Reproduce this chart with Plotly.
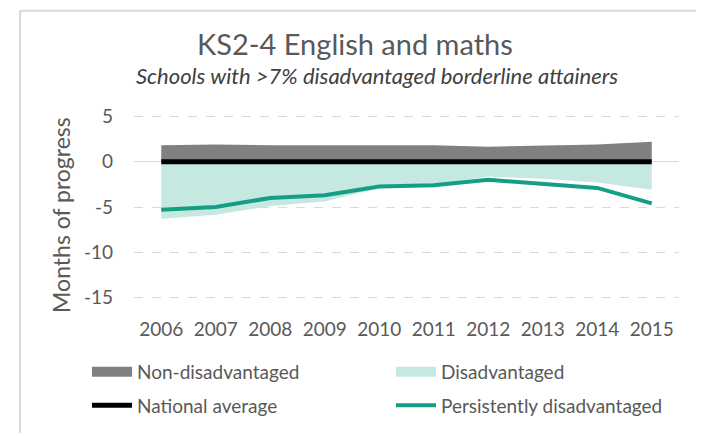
import plotly.graph_objects as go

years = ["2006", "2007", "2008", "2009", "2010", "2011", "2012", "2013", "2014", "2015"]
non_disadvantaged = [1.8, 1.9, 1.8, 1.8, 1.8, 1.8, 1.65, 1.75, 1.9, 2.2]
disadvantaged = [-6.3, -5.85, -4.9, -4.4, -2.9, -2.55, -1.65, -1.9, -2.3, -3.1]
national_average = [0, 0, 0, 0, 0, 0, 0, 0, 0, 0]
persistently = [-5.3, -5.0, -4.0, -3.7, -2.75, -2.6, -2.0, -2.5, -2.9, -4.6]
y_ticks = [5, 0, -5, -10, -15]
y_tick_labels = ["5", "0", "-5", "-10", "-15"]

FONT = "Lato"
GREY_TXT = "#595959"
TEAL = "#149E86"
TEAL_FILL = "#C5E8E1"
GREY_AREA = "#808080"
FRAME = "#D9D9D9"

# page has an 8px body margin; figure sized so the page is filled exactly
OFF = 8
PAD = 0.25  # axis padding so the outer gridlines are drawn
W, H = 704 - OFF, 437 - OFF
pxu = 184 / 20.0  # pixels per unit on the y axis
L, R = 134 - OFF, 25
T = 116 - OFF - PAD * pxu
B = 137 - PAD * pxu
pw, ph = W - L - R, H - T - B


def px(p):  # page x -> paper
    return (p - OFF - L) / pw


def py(q):  # page y -> paper
    return (H - B - (q - OFF)) / ph


fig = go.Figure()
fig.add_trace(go.Scatter(x=years, y=disadvantaged, fill="tozeroy", mode="lines",
                         line=dict(width=0, color=TEAL_FILL), fillcolor=TEAL_FILL,
                         showlegend=False, hoverinfo="skip"))
fig.add_trace(go.Scatter(x=years, y=non_disadvantaged, fill="tozeroy", mode="lines",
                         line=dict(width=0, color=GREY_AREA), fillcolor=GREY_AREA,
                         showlegend=False, hoverinfo="skip"))
fig.add_trace(go.Scatter(x=years, y=national_average, name="National average", mode="lines",
                         line=dict(width=5, color="#000000"), legend="legend2"))
fig.add_trace(go.Scatter(x=years, y=persistently, name="Persistently disadvantaged", mode="lines",
                         line=dict(width=4, color=TEAL), legend="legend2"))
# legend swatches for the two areas
fig.add_trace(go.Scatter(x=[None], y=[None], name="Non-disadvantaged", mode="lines",
                         line=dict(width=11, color=GREY_AREA), legend="legend"))
fig.add_trace(go.Scatter(x=[None], y=[None], name="Disadvantaged", mode="lines",
                         line=dict(width=11, color=TEAL_FILL), legend="legend"))

leg_common = dict(orientation="h", xanchor="left", yanchor="top", entrywidth=249,
                  entrywidthmode="pixels", font=dict(size=19, color=GREY_TXT, family=FONT),
                  traceorder="normal", itemwidth=40, bgcolor="rgba(0,0,0,0)")

fig.update_layout(
    width=W, height=H,
    margin=dict(l=L, r=R, t=T, b=B),
    paper_bgcolor="white", plot_bgcolor="white",
    font=dict(family=FONT, color=GREY_TXT, size=19),
    showlegend=True,
    legend=dict(x=px(87), y=py(356), **leg_common),
    legend2=dict(x=px(87), y=py(390), **leg_common),
    xaxis=dict(type="category", showgrid=False, showline=False, ticks="",
               ticklabelstandoff=int(round(18 - PAD * pxu)),
               tickfont=dict(size=19, color=GREY_TXT), range=[-0.5, 9.5]),
    yaxis=dict(range=[-15 - PAD, 5 + PAD], tickvals=y_ticks, ticktext=y_tick_labels,
               showgrid=True, gridcolor=FRAME, griddash="dash", gridwidth=1, zeroline=True,
               zerolinecolor=FRAME, zerolinewidth=1, showline=False, ticks="",
               ticklabelstandoff=20, tickfont=dict(size=19, color=GREY_TXT)),
    annotations=[
        dict(text="KS2-4 English and maths", x=px(355), y=py(42), xref="paper", yref="paper",
             showarrow=False, font=dict(size=29, color=GREY_TXT, family=FONT),
             xanchor="center", yanchor="middle"),
        dict(text="<i>Schools with >7% disadvantaged borderline attainers</i>", x=px(377),
             y=py(75), xref="paper", yref="paper", showarrow=False,
             font=dict(size=22, color="#404040", family=FONT), xanchor="center",
             yanchor="middle"),
        dict(text="Months of progress", x=px(61), y=py(216), xref="paper", yref="paper",
             showarrow=False, textangle=-90, font=dict(size=23, color=GREY_TXT, family=FONT),
             xanchor="center", yanchor="middle"),
    ],
    shapes=[
        dict(type="line", xref="paper", yref="paper", x0=px(20), x1=px(20), y0=py(9),
             y1=py(437), line=dict(color=FRAME, width=2)),
        dict(type="line", xref="paper", yref="paper", x0=px(20), x1=px(700), y0=py(9),
             y1=py(9), line=dict(color=FRAME, width=2)),
        dict(type="line", xref="paper", yref="paper", x0=px(700), x1=px(700), y0=py(9),
             y1=py(437), line=dict(color=FRAME, width=2)),
    ],
)

fig.write_html("out.html")
